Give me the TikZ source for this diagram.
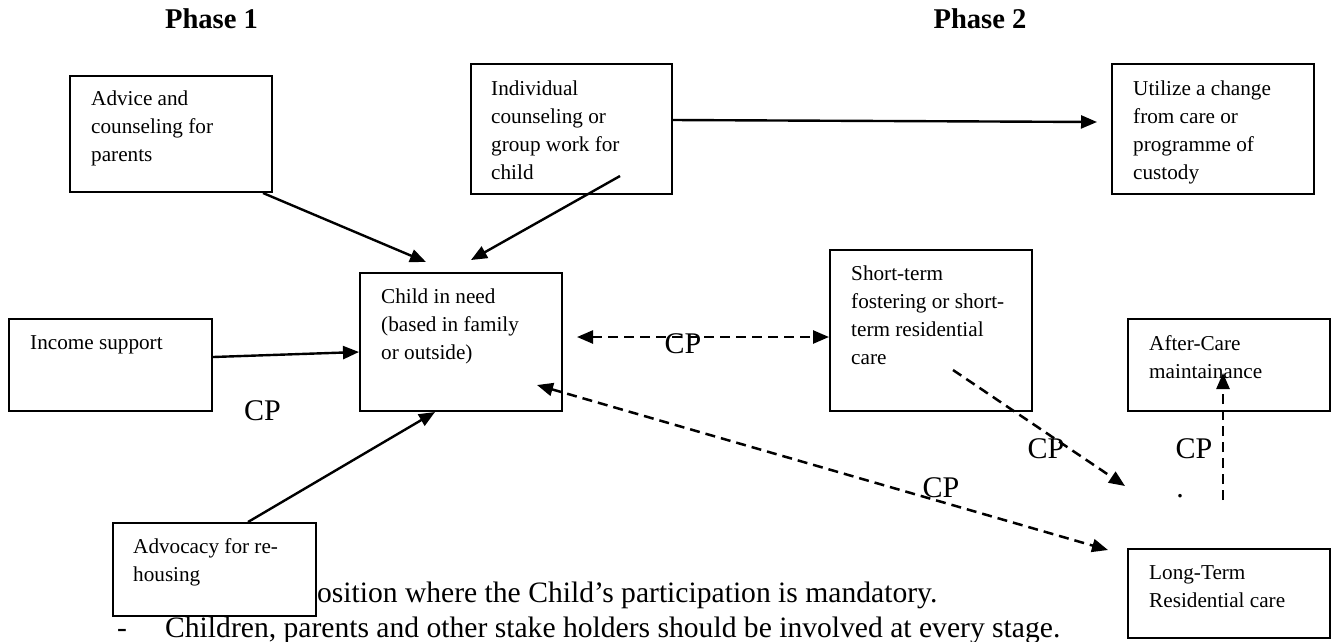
\documentclass[tikz,border=0pt]{standalone}
\usepackage{fontspec}
\setmainfont{Liberation Serif}
\usepackage{tikz}
\usetikzlibrary{arrows.meta}

\tikzset{
  >={Triangle[length=16pt,width=13pt]},
  box/.style={draw=black, line width=2pt, fill=white, inner sep=0pt},
  boxtext/.style={anchor=north west, inner sep=0pt, align=left,
    font=\fontsize{21.2}{28}\selectfont},
  cp/.style={anchor=base, inner sep=0pt, font=\fontsize{30}{36}\selectfont},
  phase/.style={anchor=base, inner sep=0pt, font=\bfseries\fontsize{28.6}{34}\selectfont},
  body/.style={anchor=base west, inner sep=0pt, font=\fontsize{29.6}{36}\selectfont},
  arr/.style={->, line width=2.4pt},
  darr/.style={line width=2.5pt, dash pattern=on 10pt off 6pt}
}

\begin{document}
\begin{tikzpicture}[x=1pt, y=-1pt]
\useasboundingbox (0,0) rectangle (1337,641);

\node[phase] (phaseone) at (211.5,28) {Phase 1};
\node[phase] (phasetwo) at (980,28) {Phase 2};

\node[body] (noteone) at (302,602) {position where the Child’s participation is mandatory.};
\node[body] (dash) at (117,637) {-};
\node[body] (notetwo) at (165,637) {Children, parents and other stake holders should be involved at every stage.};

\node[box] (advice) at (171,134) {
\begin{minipage}[t][116pt]{202pt}
\mbox{}
\end{minipage}
};\node[boxtext] (advicet) at (91,90.4) {Advice and\\counseling for\\parents};
\node[box] (indiv) at (571.5,129) {
\begin{minipage}[t][130pt]{201pt}
\mbox{}
\end{minipage}
};\node[boxtext] (indivt) at (491,80.4) {Individual\\counseling or\\group work for\\child};
\node[box] (utilize) at (1213,129) {
\begin{minipage}[t][130pt]{202pt}
\mbox{}
\end{minipage}
};\node[boxtext] (utilizet) at (1133,80.4) {Utilize a change\\from care or\\programme of\\custody};
\node[box] (child) at (461,342) {
\begin{minipage}[t][138pt]{202pt}
\mbox{}
\end{minipage}
};\node[boxtext] (childt) at (381,288.4) {Child in need\\(based in family\\or outside)};
\node[box] (income) at (110.5,365) {
\begin{minipage}[t][92pt]{203pt}
\mbox{}
\end{minipage}
};\node[boxtext] (incomet) at (30,335.4) {Income support};
\node[box] (advocacy) at (214.5,569.5) {
\begin{minipage}[t][93pt]{203pt}
\mbox{}
\end{minipage}
};\node[boxtext] (advocacyt) at (133,538.4) {Advocacy for re-\\housing};
\node[box] (short) at (931,330.5) {
\begin{minipage}[t][161pt]{202pt}
\mbox{}
\end{minipage}
};\node[boxtext] (shortt) at (851,265.4) {Short-term\\fostering or short-\\term residential\\care};
\node[box] (aftercare) at (1229,365) {
\begin{minipage}[t][92pt]{202pt}
\mbox{}
\end{minipage}
};\node[boxtext] (aftercaret) at (1149,335.4) {After-Care\\maintainance};
\node[box] (longterm) at (1229,593.5) {
\begin{minipage}[t][89pt]{202pt}
\mbox{}
\end{minipage}
};\node[boxtext] (longtermt) at (1149,565.4) {Long-Term\\Residential care};

\coordinate (advicetip) at (426,262);
\coordinate (indivout) at (620,176);
\coordinate (indivtip) at (471,260);
\coordinate (utilizetip) at (1097,122);
\coordinate (childtip) at (577,337);
\coordinate (childback) at (537,385);
\coordinate (longtip) at (1108,550);
\coordinate (shortout) at (953,370);
\coordinate (dottip) at (1125,486);
\coordinate (afterfoot) at (1223,500);
\coordinate (aftertip) at (1223,373);

\draw[arr] ([xshift=-10pt]advice.south east) -- (advicetip);
\draw[arr] (indivout) -- (indivtip);
\draw[arr] ([yshift=9pt]indiv.east) -- (utilizetip);
\draw[arr] ([yshift=8pt]income.east) -- ([yshift=-10pt]child.west);
\draw[arr] ([xshift=33.5pt]advocacy.north) -- ([xshift=-26pt]child.south);
\draw[darr, <->] (childtip) -- ([yshift=-6.5pt]short.west);
\draw[darr, <->] (childback) -- (longtip);
\draw[darr, ->] (shortout) -- (dottip);
\draw[darr, ->] (afterfoot) -- (aftertip);

\node[cp] (cpa) at (262.5,420) {CP};
\node[cp] (cpb) at (683,353) {CP};
\node[cp] (cpc) at (1046,458) {CP};
\node[cp] (cpd) at (1194,458) {CP};
\node[cp] (cpe) at (941,497) {CP};
\node[cp] (dot) at (1180,497) {.};
\end{tikzpicture}
\end{document}
